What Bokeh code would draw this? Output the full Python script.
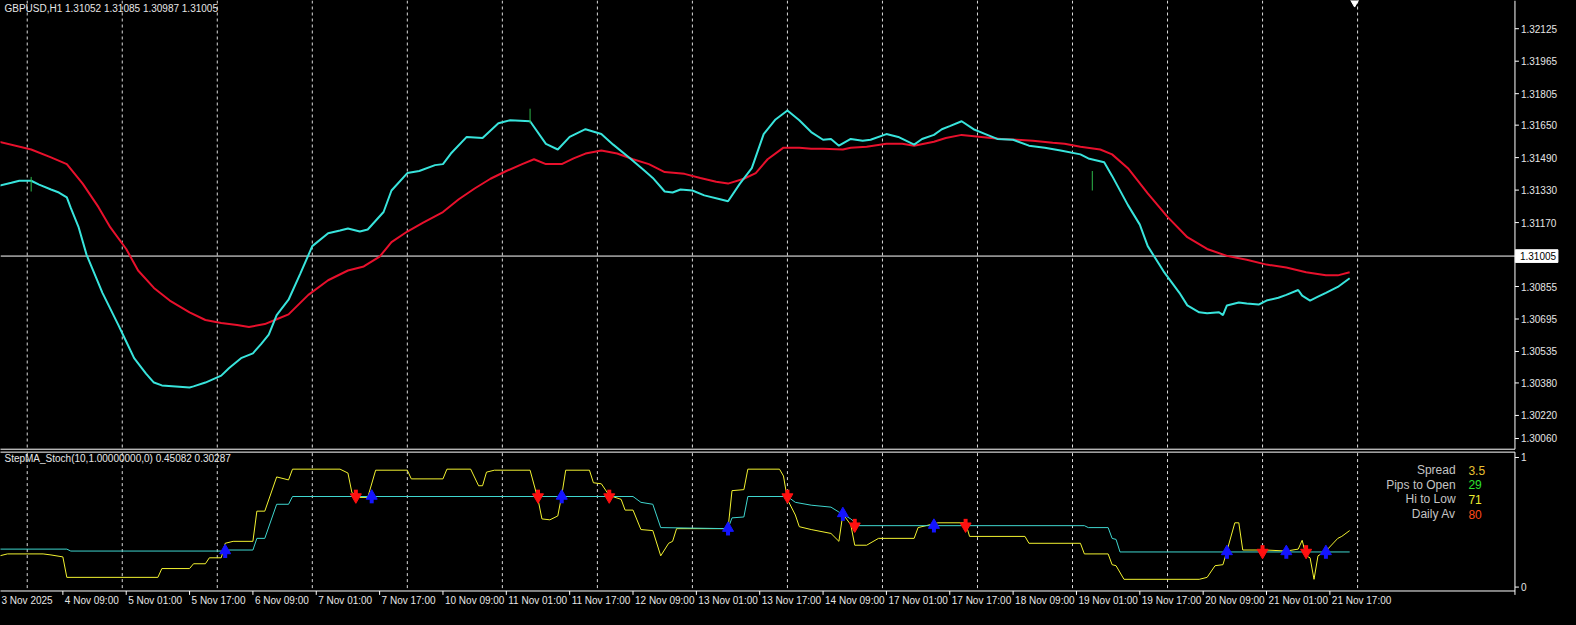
from bokeh.plotting import figure
from bokeh.models import Range1d, GlobalInlineStyleSheet
from bokeh.core.properties import value
from bokeh.embed import file_html
from bokeh.resources import INLINE

# ---------------- data ----------------
x_tick_bars = [0, 16, 32, 48, 64, 80, 96, 112, 128, 144, 160, 176, 192, 208, 224,
               240, 256, 272, 288, 304, 320, 336]
x_tick_labels = ["3 Nov 2025", "4 Nov 09:00", "5 Nov 01:00", "5 Nov 17:00", "6 Nov 09:00",
                 "7 Nov 01:00", "7 Nov 17:00", "10 Nov 09:00", "11 Nov 01:00", "11 Nov 17:00",
                 "12 Nov 09:00", "13 Nov 01:00", "13 Nov 17:00", "14 Nov 09:00", "17 Nov 01:00",
                 "17 Nov 17:00", "18 Nov 09:00", "19 Nov 01:00", "19 Nov 17:00", "20 Nov 09:00",
                 "21 Nov 01:00", "21 Nov 17:00"]
day_start_bars = [7, 31, 55, 79, 103, 127, 151, 175, 199, 223, 247, 271, 295, 319, 343]

price_ticks = [1.32125, 1.31965, 1.31805, 1.31650, 1.31490, 1.31330, 1.31170,
               1.30855, 1.30695, 1.30535, 1.30380, 1.30220, 1.30060]
last_price = 1.31005
sub_ticks = [0, 1]

fast_bars = [0, 3, 5, 8, 10,
             13, 15, 17, 18, 20,
             22, 26, 30, 32, 34,
             37, 39, 41, 48, 49,
             52, 56, 58, 61, 64,
             66, 68, 70, 73, 76,
             79, 83, 86, 88, 91,
             93, 97, 99, 103, 106,
             110, 112, 114, 118, 122,
             126, 129, 134, 138, 141,
             144, 148, 152, 155, 159,
             163, 165, 168, 170, 172,
             175, 178, 182, 184, 187,
             190, 193, 196, 199, 202,
             205, 208, 210, 212, 215,
             218, 220, 224, 227, 231,
             233, 236, 238, 240, 243,
             246, 249, 252, 256, 260,
             264, 268, 273, 275, 279,
             281, 285, 288, 290, 294,
             298, 300, 303, 305, 308,
             309, 310, 313, 315, 318,
             320, 323, 325, 328, 329,
             331, 333, 335, 338, 341]
fast_ma = [1.31352, 1.31366, 1.31376, 1.31376, 1.31357,
           1.31333, 1.31318, 1.31294, 1.31242, 1.31146,
           1.31011, 1.30824, 1.30666, 1.30584, 1.30502,
           1.30426, 1.30382, 1.30368, 1.30358, 1.30363,
           1.30382, 1.30416, 1.30454, 1.30502, 1.30526,
           1.30570, 1.30618, 1.30714, 1.30790, 1.30920,
           1.31054, 1.31117, 1.31131, 1.31141, 1.31126,
           1.31136, 1.31222, 1.31328, 1.31414, 1.31424,
           1.31453, 1.31458, 1.31510, 1.31592, 1.31587,
           1.31659, 1.31674, 1.31669, 1.31558, 1.31530,
           1.31592, 1.31630, 1.31606, 1.31554, 1.31491,
           1.31424, 1.31390, 1.31323, 1.31318, 1.31333,
           1.31328, 1.31304, 1.31285, 1.31275, 1.31362,
           1.31438, 1.31606, 1.31678, 1.31722, 1.31674,
           1.31616, 1.31578, 1.31582, 1.31549, 1.31582,
           1.31573, 1.31578, 1.31606, 1.31592, 1.31554,
           1.31582, 1.31602, 1.31630, 1.31645, 1.31669,
           1.31630, 1.31606, 1.31582, 1.31578, 1.31549,
           1.31539, 1.31525, 1.31506, 1.31486, 1.31467,
           1.31400, 1.31256, 1.31160, 1.31054, 1.30930,
           1.30824, 1.30762, 1.30728, 1.30723, 1.30728,
           1.30714, 1.30762, 1.30776, 1.30771, 1.30766,
           1.30786, 1.30800, 1.30814, 1.30838, 1.30810,
           1.30786, 1.30805, 1.30824, 1.30853, 1.30896]

slow_bars = [0, 8, 13, 17, 21,
             25, 28, 32, 35, 39,
             43, 48, 52, 56, 60,
             63, 67, 70, 73, 78,
             83, 88, 92, 96, 99,
             103, 107, 112, 116, 120,
             124, 128, 132, 135, 138,
             142, 145, 148, 152, 156,
             160, 164, 168, 173, 177,
             181, 184, 188, 191, 194,
             198, 202, 205, 208, 213,
             215, 219, 224, 228, 231,
             236, 239, 243, 248, 253,
             257, 261, 266, 269, 273,
             278, 281, 285, 290, 295,
             300, 305, 310, 315, 320,
             325, 330, 335, 338, 341]
slow_ma = [1.31568, 1.31530, 1.31491, 1.31458, 1.31362,
           1.31246, 1.31146, 1.31040, 1.30934, 1.30848,
           1.30786, 1.30728, 1.30690, 1.30675, 1.30666,
           1.30656, 1.30670, 1.30694, 1.30718, 1.30814,
           1.30886, 1.30934, 1.30954, 1.31002, 1.31074,
           1.31126, 1.31170, 1.31222, 1.31285, 1.31338,
           1.31386, 1.31424, 1.31458, 1.31482, 1.31458,
           1.31458, 1.31486, 1.31510, 1.31525, 1.31510,
           1.31482, 1.31458, 1.31419, 1.31410, 1.31390,
           1.31371, 1.31362, 1.31386, 1.31414, 1.31482,
           1.31539, 1.31539, 1.31534, 1.31534, 1.31530,
           1.31539, 1.31544, 1.31558, 1.31558, 1.31549,
           1.31568, 1.31587, 1.31602, 1.31592, 1.31582,
           1.31578, 1.31573, 1.31563, 1.31558, 1.31544,
           1.31530, 1.31506, 1.31438, 1.31314, 1.31198,
           1.31098, 1.31040, 1.31006, 1.30987, 1.30963,
           1.30949, 1.30925, 1.30910, 1.30910, 1.30925]

mark_bars = [8, 134, 276]
mark_hi = [1.31395, 1.31731, 1.31424]
mark_lo = [1.31323, 1.31659, 1.31328]

stoch_bars = [0, 2, 11, 13, 16,
              17, 40, 41, 48, 49,
              52, 53, 56, 57, 59,
              64, 65, 67, 70, 73,
              74, 86, 88, 89, 91,
              93, 95, 103, 104, 112,
              113, 119, 121, 122, 123,
              125, 134, 136, 137, 139,
              141, 142, 143, 149, 150,
              152, 154, 157, 158, 160,
              162, 165, 167, 169, 170,
              171, 184, 185, 188, 189,
              197, 198, 199, 201, 202,
              205, 210, 212, 213, 215,
              216, 219, 222, 231, 232,
              237, 244, 245, 259, 260,
              273, 274, 280, 281, 282,
              284, 303, 305, 307, 309,
              310, 312, 313, 314, 320,
              325, 328, 329, 330, 331,
              332, 333, 335, 338, 339,
              341]
stoch_main = [0.241, 0.256, 0.256, 0.248, 0.233,
              0.075, 0.075, 0.143, 0.143, 0.180,
              0.180, 0.226, 0.226, 0.338, 0.353,
              0.353, 0.586, 0.586, 0.850, 0.827,
              0.910, 0.910, 0.880, 0.729, 0.692,
              0.692, 0.902, 0.902, 0.835, 0.835,
              0.910, 0.910, 0.782, 0.782, 0.887,
              0.902, 0.902, 0.677, 0.526, 0.519,
              0.549, 0.707, 0.902, 0.902, 0.805,
              0.797, 0.707, 0.677, 0.594, 0.594,
              0.444, 0.436, 0.241, 0.338, 0.353,
              0.451, 0.451, 0.744, 0.752, 0.910,
              0.910, 0.857, 0.677, 0.556, 0.466,
              0.444, 0.414, 0.353, 0.564, 0.481,
              0.323, 0.323, 0.376, 0.376, 0.459,
              0.496, 0.496, 0.391, 0.391, 0.338,
              0.338, 0.256, 0.256, 0.173, 0.165,
              0.060, 0.060, 0.075, 0.165, 0.173,
              0.278, 0.496, 0.496, 0.286, 0.286,
              0.278, 0.293, 0.361, 0.241, 0.226,
              0.060, 0.241, 0.278, 0.376, 0.391,
              0.436]

signal_bars = [0, 17, 18, 57, 58,
               64, 65, 67, 70, 73,
               74, 160, 162, 165, 167,
               184, 185, 188, 189, 199,
               201, 205, 210, 212, 215,
               217, 274, 275, 280, 281,
               282, 283, 341]
stoch_signal = [0.293, 0.293, 0.278, 0.278, 0.286,
                0.286, 0.376, 0.376, 0.639, 0.639,
                0.699, 0.699, 0.654, 0.639, 0.459,
                0.451, 0.534, 0.541, 0.699, 0.699,
                0.654, 0.632, 0.617, 0.579, 0.526,
                0.474, 0.474, 0.459, 0.459, 0.376,
                0.368, 0.271, 0.271]

up_bars = [57, 94, 142, 184, 213, 236, 310, 325, 335]
up_vals = [0.278, 0.699, 0.699, 0.451, 0.564, 0.474, 0.271, 0.271, 0.271]
dn_bars = [90, 136, 154, 199, 216, 244, 319, 330]
dn_vals = [0.699, 0.699, 0.699, 0.699, 0.474, 0.474, 0.271, 0.271]

info_names = ["Spread", "Pips to Open", "Hi to Low", "Daily Av"]
info_values = ["3.5", "29", "71", "80"]

main_title = "GBPUSD,H1  1.31052 1.31085 1.30987 1.31005"
sub_title = "StepMA_Stoch(10,1.00000000,0) 0.45082 0.30287"

# ---------------- layout helpers (reference-pixel geometry) ----------------
FONT = value("Liberation Sans")
W, H = 1560, 609
REF_W, REF_H = 1576, 625
PX_PRICE = 0.000048           # price per reference pixel
PRICE_TOP = 1.32264           # price at the very top of the window
SUB_ZERO_Y, SUB_PX = 602.0, 133.0


def bx(X):          # reference x pixel -> bar coordinate
    return (X + 1) / 4.0


def py(Y):          # reference y pixel -> price
    return PRICE_TOP - PX_PRICE * Y


def sy(Y):          # reference y pixel -> sub-window value
    return (SUB_ZERO_Y - Y) / SUB_PX


AX = bx(1530)                 # right price-axis line
MAIN_BOT, SUB_TOP, SUB_BOT = 460.5, 463.5, 606.0
BAR = 1.0                     # one bar = 4 reference px

p = figure(width=W, height=H, frame_width=W, frame_height=H,
           x_range=Range1d(bx(0), bx(REF_W)), y_range=Range1d(py(REF_H), py(0)),
           output_backend="svg", toolbar_location=None,
           x_axis_location=None, y_axis_location=None,
           background_fill_color="black", border_fill_color="black",
           outline_line_color=None,
           min_border_left=0, min_border_right=0, min_border_top=0, min_border_bottom=0)
p.extra_y_ranges = {"sub": Range1d(sy(REF_H), sy(0))}
p.grid.visible = False

GRID = dict(line_color="#dcdcdc", line_dash="3 3", line_width=1)
TXT = "#e6e6e6"

# grids (day separators), main and sub windows
p.segment(x0=day_start_bars, x1=day_start_bars,
          y0=[py(0)] * len(day_start_bars), y1=[py(MAIN_BOT - 1)] * len(day_start_bars), **GRID)
p.segment(x0=day_start_bars, x1=day_start_bars,
          y0=[sy(SUB_TOP + 1)] * len(day_start_bars), y1=[sy(SUB_BOT - 1)] * len(day_start_bars),
          y_range_name="sub", **GRID)

# ---- main window ----
p.segment(x0=[bx(0)], x1=[AX], y0=[last_price], y1=[last_price], line_color="white", line_width=1)
p.line(slow_bars, slow_ma, line_color="#e8102c", line_width=2)
p.line(fast_bars, fast_ma, line_color="#38e4dc", line_width=2)
p.segment(x0=mark_bars, y0=mark_lo, x1=mark_bars, y1=mark_hi, line_color="#2db84a", line_width=1)
p.scatter([bx(1368)], [py(2)], marker="inverted_triangle", size=8,
          fill_color="white", line_color="white")

# main window frame lines
p.segment(x0=[bx(-2)], x1=[AX], y0=[py(MAIN_BOT)], y1=[py(MAIN_BOT)], line_color="white", line_width=1)
p.segment(x0=[AX], x1=[AX], y0=[py(0)], y1=[py(MAIN_BOT)], line_color="white", line_width=1)

# price axis ticks and labels (lowest label is lifted inside the window, like MT4)
label_limit = py(MAIN_BOT - 11)
tick_pos = [max(t, label_limit) for t in price_ticks]
p.segment(x0=[AX] * len(tick_pos), x1=[AX + BAR] * len(tick_pos), y0=tick_pos, y1=tick_pos,
          line_color="white", line_width=1)
p.text(x=[AX + 1.5 * BAR] * len(tick_pos), y=tick_pos, text=[f"{t:.5f}" for t in price_ticks],
       text_font=FONT, text_font_size="10px", text_color=TXT,
       text_align="left", text_baseline="middle")

# current price box
p.rect(x=[(AX + bx(1573)) / 2 + 0.1], y=[last_price], width=bx(1573) - AX, height=13 * PX_PRICE,
       fill_color="white", line_color="white")
p.text(x=[AX + 1.25 * BAR], y=[last_price], text=[f"{last_price:.5f}"],
       text_font=FONT, text_font_size="10px", text_color="black",
       text_align="left", text_baseline="middle")

p.text(x=[bx(4)], y=[py(8)], text=[main_title], text_font=FONT, text_font_size="10px",
       text_color=TXT, text_align="left", text_baseline="middle")

# ---- sub window ----
S = dict(y_range_name="sub")
p.segment(x0=[bx(-2)], x1=[AX], y0=[sy(SUB_TOP)], y1=[sy(SUB_TOP)], line_color="white", line_width=1, **S)
p.segment(x0=[AX], x1=[AX], y0=[sy(SUB_TOP)], y1=[sy(SUB_BOT + 4)], line_color="white", line_width=1, **S)
p.segment(x0=[bx(-2)], x1=[AX], y0=[sy(SUB_BOT)], y1=[sy(SUB_BOT)], line_color="white", line_width=1, **S)

p.segment(x0=[AX] * 2, x1=[AX + BAR] * 2, y0=sub_ticks, y1=sub_ticks, line_color="white", **S)
p.text(x=[AX + 1.5 * BAR] * 2, y=sub_ticks, text=[str(t) for t in sub_ticks], text_font=FONT,
       text_font_size="10px", text_color=TXT, text_align="left", text_baseline="middle", **S)

p.line(stoch_bars, stoch_main, line_color="#f2f230", line_width=1, **S)
p.line(signal_bars, stoch_signal, line_color="#3fd6cf", line_width=1, **S)

# arrows: shaft + head (wingdings-like thick arrows)
u = 1.0 / SUB_PX
p.segment(x0=up_bars, y0=[v - 7 * u for v in up_vals], x1=up_bars, y1=[v - 1 * u for v in up_vals],
          line_color="#1414ff", line_width=4, **S)
p.scatter(up_bars, [v + 0.5 * u for v in up_vals], marker="triangle", size=11,
          fill_color="#1414ff", line_color="#1414ff", **S)
p.segment(x0=dn_bars, y0=[v + 7 * u for v in dn_vals], x1=dn_bars, y1=[v + 1 * u for v in dn_vals],
          line_color="#ff1010", line_width=4, **S)
p.scatter(dn_bars, [v - 0.5 * u for v in dn_vals], marker="inverted_triangle", size=11,
          fill_color="#ff1010", line_color="#ff1010", **S)

p.text(x=[bx(4)], y=[sy(470)], text=[sub_title], text_font=FONT, text_font_size="10px",
       text_color=TXT, text_align="left", text_baseline="middle", **S)

value_colors = ["#e8c030", "#2ee02e", "#ecec30", "#ff4a1a"]
info_rows = [482, 497, 512, 527]
p.text(x=[bx(1470)] * 4, y=[sy(r) for r in info_rows], text=info_names, text_font=FONT,
       text_font_size="12px", text_color="#c4c4c4", text_align="right", text_baseline="middle", **S)
p.text(x=[bx(1483)] * 4, y=[sy(r) for r in info_rows], text=info_values, text_font=FONT,
       text_font_size="12px", text_color=value_colors, text_align="left", text_baseline="middle", **S)

# ---- time axis ----
n = len(x_tick_bars)
p.segment(x0=x_tick_bars, x1=x_tick_bars, y0=[sy(SUB_BOT)] * n, y1=[sy(SUB_BOT + 4)] * n,
          line_color="white", **S)
p.text(x=[b + 0.5 for b in x_tick_bars], y=[sy(616)] * n, text=x_tick_labels, text_font=FONT,
       text_font_size="10px", text_color=TXT, text_align="left", text_baseline="middle", **S)

p.stylesheets = [GlobalInlineStyleSheet(css="html, body { background-color: #000000; }")]

open("out.html", "w").write(file_html(p, INLINE))
